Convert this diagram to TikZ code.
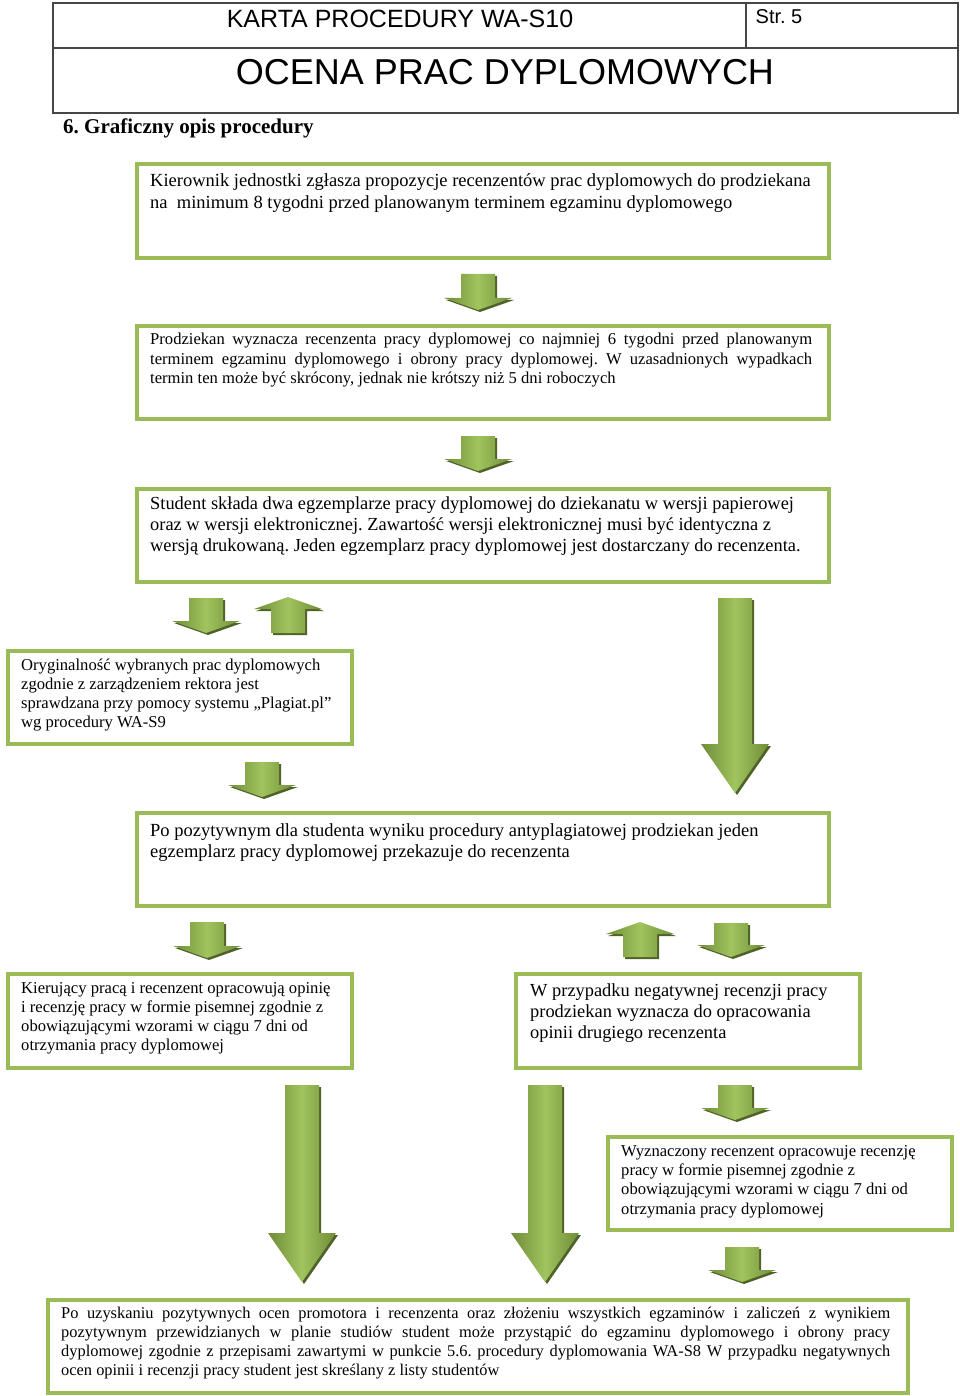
\documentclass[tikz,border=0pt]{standalone}
\usepackage{fontspec}
\setmainfont{Liberation Serif}
\setsansfont{Liberation Sans}
\frenchspacing

\definecolor{boxgreen}{RGB}{155,187,89}
\definecolor{arrowdark}{RGB}{112,140,56}
\definecolor{arrowlight}{RGB}{160,196,94}
\definecolor{arrowshadow}{RGB}{79,98,40}
\definecolor{hdrgray}{RGB}{70,70,70}

\tikzset{
  stepbox/.style={draw=boxgreen, line width=4pt, inner sep=0pt, anchor=north west},
  boxtext/.style={anchor=north west, inner sep=0pt, align=left},
  arrowfill/.style={left color=arrowdark, right color=arrowdark, middle color=arrowlight},
  hdrline/.style={draw=hdrgray, line width=1.2pt},
}

% block arrows: x, top, bottom, head length
\newcommand\blockdown[4]{%
  \fill[arrowshadow, shift={(2,2)}] ({#1-17},#2) -- ({#1+17},#2) -- ({#1+17},{#3-#4}) -- ({#1+34},{#3-#4}) -- (#1,#3) -- ({#1-34},{#3-#4}) -- ({#1-17},{#3-#4}) -- cycle;
  \shade[arrowfill] ({#1-17},#2) -- ({#1+17},#2) -- ({#1+17},{#3-#4}) -- ({#1+34},{#3-#4}) -- (#1,#3) -- ({#1-34},{#3-#4}) -- ({#1-17},{#3-#4}) -- cycle;
}
\newcommand\blockup[4]{%
  \fill[arrowshadow, shift={(2,2)}] (#1,#2) -- ({#1+34},{#2+#4}) -- ({#1+17},{#2+#4}) -- ({#1+17},#3) -- ({#1-17},#3) -- ({#1-17},{#2+#4}) -- ({#1-34},{#2+#4}) -- cycle;
  \shade[arrowfill] (#1,#2) -- ({#1+34},{#2+#4}) -- ({#1+17},{#2+#4}) -- ({#1+17},#3) -- ({#1-17},#3) -- ({#1-17},{#2+#4}) -- ({#1-34},{#2+#4}) -- cycle;
}

\begin{document}
\begin{tikzpicture}[x=1pt, y=-1pt]
  \useasboundingbox (0,0) rectangle (960,1396);

  % header
  \draw[hdrline] (53,3) rectangle (958,113);
  \draw[hdrline] (53,48) -- (958,48);
  \draw[hdrline] (746,3) -- (746,48);
  \node[inner sep=0pt, font=\sffamily\fontsize{25}{28}\selectfont] (karta) at (400,19) {KARTA PROCEDURY WA-S10};
  \node[inner sep=0pt, font=\sffamily\fontsize{20}{24}\selectfont] (strona) at (779,17) {Str. 5};
  \node[inner sep=0pt, font=\sffamily\fontsize{36}{40}\selectfont] (tytul) at (505,72) {OCENA PRAC DYPLOMOWYCH};
  \node[inner sep=0pt, anchor=base west, font=\bfseries\fontsize{21}{24}\selectfont] (punkt) at (63,134) {6. Graficzny opis procedury};

  % boxes
  \node[stepbox, minimum width=692pt, minimum height=94pt] (kier) at (135,162) {};
  \node[boxtext, font=\fontsize{18.5}{22}\selectfont] (kiert) at (150,173)
    {Kierownik jednostki zgłasza propozycje recenzentów prac dyplomowych do prodziekana\\
     na\ \ minimum 8 tygodni przed planowanym terminem egzaminu dyplomowego};

  \node[stepbox, minimum width=692pt, minimum height=93pt] (prodz) at (135,324) {};
  \node[boxtext, align=justify, text width=662pt, font=\fontsize{16.6}{19.5}\selectfont] (prodzt) at (150,333)
    {Prodziekan wyznacza recenzenta pracy dyplomowej co najmniej 6 tygodni przed planowanym\linebreak
     terminem egzaminu dyplomowego i obrony pracy dyplomowej. W uzasadnionych wypadkach\linebreak
     termin ten może być skrócony, jednak nie krótszy niż 5 dni roboczych};

  \node[stepbox, minimum width=692pt, minimum height=93pt] (stud) at (135,487) {};
  \node[boxtext, font=\fontsize{18.4}{21}\selectfont] (studt) at (150,497)
    {Student składa dwa egzemplarze pracy dyplomowej do dziekanatu w wersji papierowej\\
     oraz w wersji elektronicznej. Zawartość wersji elektronicznej musi być identyczna z\\
     wersją drukowaną. Jeden egzemplarz pracy dyplomowej jest dostarczany do recenzenta.};

  \node[stepbox, minimum width=344pt, minimum height=93pt] (oryg) at (6,649) {};
  \node[boxtext, font=\fontsize{16.6}{19}\selectfont] (orygt) at (21,659)
    {Oryginalność wybranych prac dyplomowych\\
     zgodnie z zarządzeniem rektora jest\\
     sprawdzana przy pomocy systemu „Plagiat.pl”\\
     wg procedury WA-S9};

  \node[stepbox, minimum width=692pt, minimum height=93pt] (pozyt) at (135,811) {};
  \node[boxtext, font=\fontsize{18.5}{21.5}\selectfont] (pozytt) at (150,823)
    {Po pozytywnym dla studenta wyniku procedury antyplagiatowej prodziekan jeden\\
     egzemplarz pracy dyplomowej przekazuje do recenzenta};

  \node[stepbox, minimum width=344pt, minimum height=94pt] (kieruj) at (6,972) {};
  \node[boxtext, font=\fontsize{16.6}{19}\selectfont] (kierujt) at (21,982)
    {Kierujący pracą i recenzent opracowują opinię\\
     i recenzję pracy w formie pisemnej zgodnie z\\
     obowiązującymi wzorami w ciągu 7 dni od\\
     otrzymania pracy dyplomowej};

  \node[stepbox, minimum width=344pt, minimum height=94pt] (negat) at (514,972) {};
  \node[boxtext, font=\fontsize{18.4}{21}\selectfont] (negatt) at (530,984)
    {W przypadku negatywnej recenzji pracy\\
     prodziekan wyznacza do opracowania\\
     opinii drugiego recenzenta};

  \node[stepbox, minimum width=344pt, minimum height=93pt] (wyzn) at (606,1135) {};
  \node[boxtext, font=\fontsize{16.6}{19.3}\selectfont] (wyznt) at (621,1145)
    {Wyznaczony recenzent opracowuje recenzję\\
     pracy w formie pisemnej zgodnie z\\
     obowiązującymi wzorami w ciągu 7 dni od\\
     otrzymania pracy dyplomowej};

  \node[stepbox, minimum width=860pt, minimum height=93pt] (koniec) at (46,1298) {};
  \node[boxtext, align=justify, text width=829pt, font=\fontsize{16.4}{19}\selectfont] (koniect) at (61,1307)
    {Po uzyskaniu pozytywnych ocen promotora i recenzenta oraz złożeniu wszystkich egzaminów i zaliczeń z wynikiem\linebreak
     pozytywnym przewidzianych w planie studiów student może przystąpić do egzaminu dyplomowego i obrony pracy\linebreak
     dyplomowej zgodnie z przepisami zawartymi w punkcie 5.6. procedury dyplomowania WA-S8 W przypadku negatywnych\linebreak
     ocen opinii i recenzji pracy student jest skreślany z listy studentów};

  % arrows
  \blockdown{478}{274}{310}{12}
  \blockdown{478}{436}{471}{12}
  \blockdown{206}{598}{633}{12}
  \blockup{288}{597}{633}{12}
  \blockdown{735}{598}{793}{49}
  \blockdown{262}{762}{797}{12}
  \blockdown{207}{922}{958}{12}
  \blockup{640}{922}{957}{12}
  \blockdown{731}{923}{957}{12}
  \blockdown{735}{1085}{1120}{12}
  \blockdown{302}{1085}{1282}{49}
  \blockdown{545}{1085}{1282}{49}
  \blockdown{742}{1247}{1282}{12}
\end{tikzpicture}
\end{document}
